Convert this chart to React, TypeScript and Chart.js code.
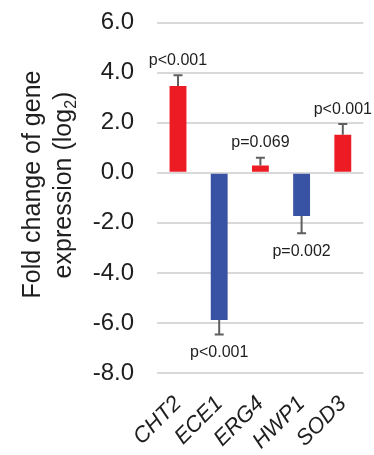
import React, { useEffect, useRef } from 'react';
import { Chart, registerables } from 'chart.js';

Chart.register(...registerables);

const genes = ['CHT2', 'ECE1', 'ERG4', 'HWP1', 'SOD3'];
const foldChange = [3.47, -5.88, 0.29, -1.73, 1.52];
const errors = [0.43, 0.58, 0.31, 0.68, 0.43];
const pLabels = ['p<0.001', 'p<0.001', 'p=0.069', 'p=0.002', 'p<0.001'];
const barColors = ['#ed1c24', '#3953a4', '#ed1c24', '#3953a4', '#ed1c24'];
const yTicks = [-8, -6, -4, -2, 0, 2, 4, 6];
const titleLine1 = 'Fold change of gene';
const titleLine2 = ['expression (log', '2', ')'];

const FONT = '"Liberation Sans", Arial, Helvetica, sans-serif';
const TEXT = '#1e1e1e';

const errorBarPlugin = {
  id: 'errorBars',
  afterDatasetsDraw(chart: any) {
    const ctx = chart.ctx;
    const y = chart.scales.y;
    const meta = chart.getDatasetMeta(0);
    ctx.save();
    meta.data.forEach((bar: any, i: number) => {
      const v = foldChange[i];
      const e = errors[i];
      const end = v >= 0 ? v + e : v - e;
      const y0 = y.getPixelForValue(v);
      const y1 = y.getPixelForValue(end);
      ctx.strokeStyle = '#5f5f5f';
      ctx.lineWidth = 2;
      ctx.beginPath();
      ctx.moveTo(bar.x, y0);
      ctx.lineTo(bar.x, y1);
      ctx.moveTo(bar.x - 4.5, y1);
      ctx.lineTo(bar.x + 4.5, y1);
      ctx.stroke();
      ctx.fillStyle = TEXT;
      ctx.font = `16px ${FONT}`;
      ctx.textAlign = 'center';
      ctx.textBaseline = 'alphabetic';
      ctx.fillText(pLabels[i], bar.x, v >= 0 ? y1 - 10.5 : y1 + 22.5);
    });
    ctx.restore();
  },
};

const titlePlugin = {
  id: 'yTitle',
  afterDraw(chart: any) {
    const ctx = chart.ctx;
    ctx.save();
    ctx.fillStyle = TEXT;
    ctx.textBaseline = 'alphabetic';
    ctx.save();
    ctx.translate(39.6, 184.5);
    ctx.rotate(-Math.PI / 2);
    ctx.font = `25px ${FONT}`;
    ctx.textAlign = 'center';
    ctx.fillText(titleLine1, 0, 0);
    ctx.restore();
    ctx.save();
    ctx.translate(71.3, 185);
    ctx.rotate(-Math.PI / 2);
    const big = `25px ${FONT}`;
    const small = `16px ${FONT}`;
    ctx.font = big;
    const w0 = ctx.measureText(titleLine2[0]).width;
    const w2 = ctx.measureText(titleLine2[2]).width;
    ctx.font = small;
    const w1 = ctx.measureText(titleLine2[1]).width;
    const total = w0 + w1 + w2;
    let x = -total / 2;
    ctx.textAlign = 'left';
    ctx.font = big;
    ctx.fillText(titleLine2[0], x, 0);
    x += w0;
    ctx.font = small;
    ctx.fillText(titleLine2[1], x, 5);
    x += w1;
    ctx.font = big;
    ctx.fillText(titleLine2[2], x, 0);
    ctx.restore();
    ctx.restore();
  },
};

export default function App() {
  const ref = useRef<HTMLCanvasElement | null>(null);
  useEffect(() => {
    if (!ref.current) return;
    const chart = new Chart(ref.current, {
      type: 'bar',
      data: {
        labels: genes,
        datasets: [
          {
            data: foldChange,
            backgroundColor: barColors,
            borderWidth: 0,
            barPercentage: 0.41,
            categoryPercentage: 1,
          },
        ],
      },
      options: {
        responsive: false,
        animation: false,
        layout: { padding: { top: 22.7, right: 10.6, left: 0, bottom: 0 } },
        plugins: { legend: { display: false }, tooltip: { enabled: false } },
        scales: {
          x: {
            grid: { display: false },
            border: { display: false },
            ticks: {
              autoSkip: false,
              maxRotation: 45,
              minRotation: 45,
              color: TEXT,
              padding: 10,
              font: { family: FONT, size: 22, style: 'italic' },
            },
            afterFit: (s: any) => {
              s.height = 82;
            },
          },
          y: {
            min: -8,
            max: 6,
            afterBuildTicks: (s: any) => {
              s.ticks = yTicks.map((v) => ({ value: v }));
            },
            grid: {
              color: '#d9d9d9',
              lineWidth: 2,
              drawTicks: true,
              tickLength: 23.4,
              tickColor: 'rgba(0,0,0,0)',
            },
            border: { display: false },
            ticks: {
              padding: 0,
              color: TEXT,
              font: { family: FONT, size: 24 },
              callback: (v: any) => Number(v).toFixed(1),
            },
            afterFit: (s: any) => {
              s.width = 157.4;
            },
          },
        },
      },
      plugins: [errorBarPlugin, titlePlugin],
    } as any);
    return () => chart.destroy();
  }, []);
  return (
    <div style={{ position: 'absolute', left: 0, top: 0, width: 374, height: 455, background: '#fff' }}>
      <canvas ref={ref} width={374} height={455} style={{ display: 'block' }} />
    </div>
  );
}
